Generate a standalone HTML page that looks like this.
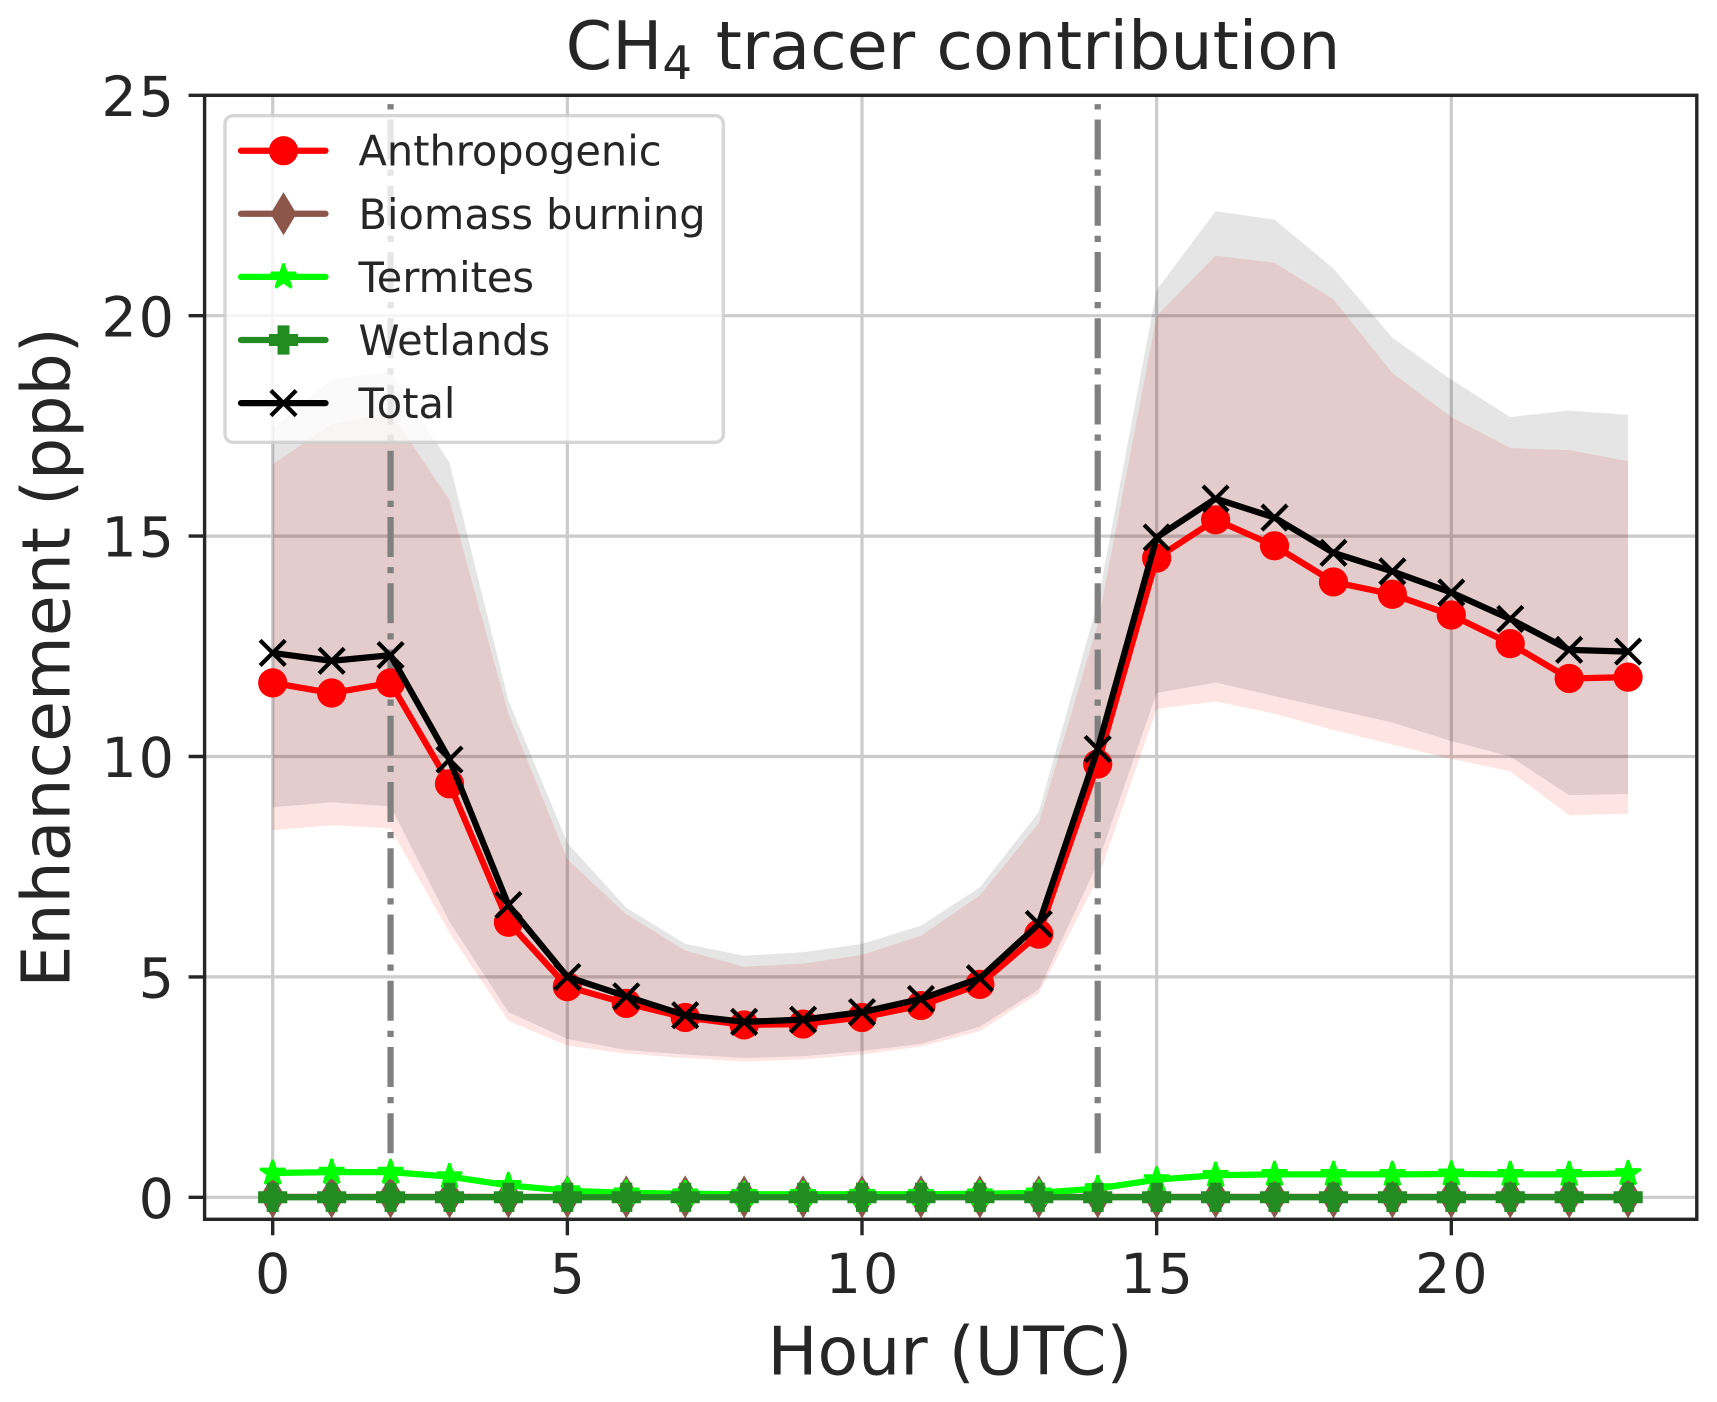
<!DOCTYPE html>
<html lang="en">
<head>
<meta charset="utf-8">
<title>CH4 tracer contribution</title>
<style>
html,body{margin:0;padding:0;background:#fff;width:1717px;height:1402px;overflow:hidden}
svg{display:block}
text{font-family:"DejaVu Sans","Liberation Sans",sans-serif;fill:#262626}
</style>
</head>
<body>
<svg id="chart" xmlns="http://www.w3.org/2000/svg" width="1717" height="1402" viewBox="0 0 1717 1402">
  <defs>
    <clipPath id="axes-clip"><rect x="204.6" y="95.3" width="1492.2" height="1124"></rect></clipPath>
  </defs>
  <rect x="0" y="0" width="1717" height="1402" fill="#ffffff"></rect>
  <g id="grid"></g>
  <g id="plot" clip-path="url(#axes-clip)"></g>
  <g id="spines"></g>
  <g id="ticks"></g>
  <g id="legend"></g>
  <text x="953" y="69" text-anchor="middle" font-size="66.67">CH<tspan font-size="46.67" dy="10">4</tspan><tspan dy="-10" dx="2.5"> tracer contribution</tspan></text>
  <text x="950" y="1374.5" text-anchor="middle" font-size="66.5">Hour (UTC)</text>
  <text transform="translate(69.5,657.5) rotate(-90)" text-anchor="middle" font-size="66.5">Enhancement (ppb)</text>
</svg>
<script>
const hours = [0,1,2,3,4,5,6,7,8,9,10,11,12,13,14,15,16,17,18,19,20,21,22,23];
const anthropogenic = [11.67,11.44,11.67,9.38,6.24,4.78,4.40,4.08,3.91,3.93,4.08,4.35,4.83,5.97,9.83,14.5,15.37,14.78,13.96,13.68,13.21,12.56,11.77,11.8];
const biomass = [0.01,0.01,0.01,0.01,0.01,0.01,0.01,0.01,0.01,0.01,0.01,0.01,0.01,0.01,0.01,0.01,0.01,0.01,0.01,0.01,0.01,0.01,0.01,0.01];
const termites = [0.55,0.57,0.57,0.47,0.27,0.15,0.1,0.08,0.07,0.07,0.07,0.07,0.08,0.1,0.2,0.4,0.5,0.52,0.52,0.52,0.53,0.52,0.52,0.54];
const wetlands = [0,0,0,0,0,0,0,0,0,0,0,0,0,0,0,0,0,0,0,0,0,0,0,0];
const total = [12.35,12.17,12.3,9.93,6.63,5.0,4.56,4.13,3.98,4.03,4.2,4.5,4.97,6.2,10.17,14.97,15.85,15.42,14.62,14.2,13.72,13.12,12.42,12.38];
const totalUpper = [17.44,18.55,18.74,16.66,11.27,8.04,6.57,5.75,5.48,5.56,5.75,6.16,7.03,8.74,13.5,20.58,22.37,22.18,21.07,19.5,18.55,17.7,17.85,17.75];
const totalLower = [8.85,8.96,8.87,6.25,4.2,3.59,3.34,3.24,3.16,3.2,3.32,3.48,3.87,4.71,7.58,11.44,11.68,11.37,11.07,10.77,10.35,10.0,9.12,9.15];
const anthropogenicUpper = [16.63,17.54,17.8,15.82,10.97,7.67,6.42,5.6,5.23,5.3,5.5,5.93,6.85,8.49,13.0,20.0,21.36,21.2,20.37,18.7,17.7,17.0,16.95,16.7];
const anthropogenicLower = [8.33,8.44,8.37,6.0,4.0,3.44,3.26,3.16,3.08,3.13,3.24,3.42,3.77,4.63,7.22,11.08,11.25,10.97,10.6,10.27,9.95,9.66,8.67,8.7];
const xTickValues = [0,5,10,15,20];
const yTickValues = [0,5,10,15,20,25];
const xTickLabels = ["0","5","10","15","20"];
const yTickLabels = ["0","5","10","15","20","25"];
const overpassHours = [2,14];
const overpassRange = [1,24.8];
const seriesNames = ["Anthropogenic","Biomass burning","Termites","Wetlands","Total"];

const NS = "http://www.w3.org/2000/svg";
const AXIS = {left:204.6,right:1696.8,top:95.3,bottom:1219.3};
function xScale(h){return 272.7 + 58.93*h;}
function yScale(v){return 1197.3 - 44.08*v;}
function make(tag, attrs, parent){
  const e = document.createElementNS(NS, tag);
  for(const k in attrs){e.setAttribute(k, attrs[k]);}
  parent.appendChild(e);
  return e;
}
function starPoints(r){
  const pts = [];
  for(let i=0;i<10;i++){
    const rad = i%2===0 ? r : r*0.381966;
    const a = -Math.PI/2 + i*Math.PI/5;
    pts.push((rad*Math.cos(a)).toFixed(2)+","+(rad*Math.sin(a)).toFixed(2));
  }
  return pts.join(" ");
}
function drawMarker(kind, cx, cy, color, parent){
  const g = make("g",{transform:"translate("+cx+","+cy+")"},parent);
  
  
  if(kind==="circle"){make("circle",{cx:0,cy:0,r:14.6,fill:color},g);}
  if(kind==="diamond"){make("polygon",{points:"0,-21.5 13,0 0,21.5 -13,0",fill:color},g);}
  if(kind==="star"){make("polygon",{points:starPoints(13.2),fill:color,stroke:color,"stroke-width":2.6,"stroke-linejoin":"bevel"},g);}
  if(kind==="plus"){make("polygon",{points:"-6,-14.6 6,-14.6 6,-6 14.6,-6 14.6,6 6,6 6,14.6 -6,14.6 -6,6 -14.6,6 -14.6,-6 -6,-6",fill:color},g);}
  if(kind==="x"){
    make("line",{x1:-12.6,y1:-12.6,x2:12.6,y2:12.6,stroke:color,"stroke-width":4.2},g);
    make("line",{x1:-12.6,y1:12.6,x2:12.6,y2:-12.6,stroke:color,"stroke-width":4.2},g);
  }
}
const gridG = document.getElementById("grid");
const plotG = document.getElementById("plot");
const spinesG = document.getElementById("spines");
const ticksG = document.getElementById("ticks");
const legendG = document.getElementById("legend");

/* grid */
xTickValues.forEach(function(v){
  const l = make("line",{x1:xScale(v),x2:xScale(v),y1:AXIS.top,y2:AXIS.bottom,stroke:"#cbcbcb","stroke-width":3.2},gridG);
  
  
});
yTickValues.forEach(function(v){
  const l = make("line",{x1:AXIS.left,x2:AXIS.right,y1:yScale(v),y2:yScale(v),stroke:"#cbcbcb","stroke-width":3.2},gridG);
  
  
});

/* uncertainty bands */
function bandPath(upper, lower){
  const top = hours.map(function(h,i){return xScale(h).toFixed(2)+","+yScale(upper[i]).toFixed(2);});
  const bot = hours.map(function(h,i){return xScale(h).toFixed(2)+","+yScale(lower[i]).toFixed(2);}).reverse();
  return top.concat(bot).join(" ");
}
const bandAnth = make("polygon",{points:bandPath(anthropogenicUpper,anthropogenicLower),fill:"#ff0000","fill-opacity":0.105},plotG);


const bandTotal = make("polygon",{points:bandPath(totalUpper,totalLower),fill:"#000000","fill-opacity":0.1},plotG);



/* vertical reference lines */
overpassHours.forEach(function(h){
  const l = make("line",{x1:xScale(h),x2:xScale(h),y1:yScale(overpassRange[0]),y2:yScale(overpassRange[1]),stroke:"#808080","stroke-width":6.25,"stroke-dasharray":"40 10 6.25 10"},plotG);
  
  
});

/* series */
const seriesValues = [anthropogenic,biomass,termites,wetlands,total];
const seriesColors = ["#ff0000","#8c564b","#00ff00","#228b22","#000000"];
const seriesMarkers = ["circle","diamond","star","plus","x"];
seriesValues.forEach(function(vals,si){
  const g = make("g",{},plotG);
  
  
  const pts = hours.map(function(h,i){return xScale(h).toFixed(2)+","+yScale(vals[i]).toFixed(2);}).join(" ");
  const line = make("polyline",{points:pts,fill:"none",stroke:seriesColors[si],"stroke-width":6.25,"stroke-linejoin":"round","stroke-linecap":"round"},g);
  
  
  hours.forEach(function(h,i){
    drawMarker(seriesMarkers[si],xScale(h),yScale(vals[i]),seriesColors[si],g);
  });
});

/* spines */
const frame = make("rect",{x:AXIS.left,y:AXIS.top,width:AXIS.right-AXIS.left,height:AXIS.bottom-AXIS.top,fill:"none",stroke:"#262626","stroke-width":3.4},spinesG);



/* ticks */
xTickValues.forEach(function(v,i){
  const t = make("line",{x1:xScale(v),x2:xScale(v),y1:AXIS.bottom,y2:AXIS.bottom+16,stroke:"#262626","stroke-width":3.4},ticksG);
  
  
  const lab = make("text",{x:xScale(v)+1,y:1293,"text-anchor":"middle","font-size":55.56,"letter-spacing":2},ticksG);
  lab.textContent = xTickLabels[i];
  
  
});
yTickValues.forEach(function(v,i){
  const t = make("line",{x1:AXIS.left-16,x2:AXIS.left,y1:yScale(v),y2:yScale(v),stroke:"#262626","stroke-width":3.4},ticksG);
  
  
  const lab = make("text",{x:176,y:yScale(v)+20.6,"text-anchor":"end","font-size":55.56,"letter-spacing":2},ticksG);
  lab.textContent = yTickLabels[i];
  
  
});

/* legend */
const legendBox = make("rect",{x:225,y:115.7,width:498.3,height:326.6,rx:8,ry:8,fill:"#ffffff","fill-opacity":0.8,stroke:"#cccccc","stroke-opacity":0.8,"stroke-width":3.4},legendG);


seriesNames.forEach(function(name,i){
  const y = 150.7 + i*63.1;
  const g = make("g",{},legendG);
  
  
  const h = make("line",{x1:241,x2:325.5,y1:y,y2:y,stroke:seriesColors[i],"stroke-width":6.25,"stroke-linecap":"round"},g);
  
  
  drawMarker(seriesMarkers[i],283.5,y,seriesColors[i],g);
  const t = make("text",{x:358.5,y:y+15,"font-size":41.5},g);
  t.textContent = name;
  
  
});
</script>
</body>
</html>
